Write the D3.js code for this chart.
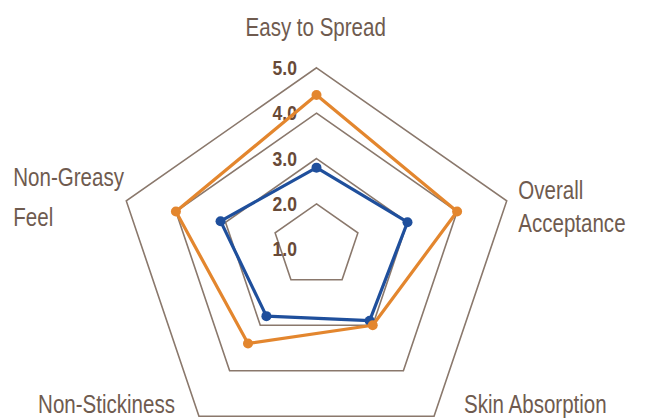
<!DOCTYPE html>
<html><head><meta charset="utf-8">
<script src="https://cdn.jsdelivr.net/npm/d3@7"></script>
<style>html,body{margin:0;padding:0;background:#fff}svg{display:block}</style>
</head><body>
<script>
// ---- data ----
const axisNames = ["Easy to Spread", "Overall Acceptance", "Skin Absorption", "Non-Stickiness", "Non-Greasy Feel"];
const axisLabelLines = [["Easy to Spread"], ["Overall", "Acceptance"], ["Skin Absorption"], ["Non-Stickiness"], ["Non-Greasy", "Feel"]];
const orangeValues = [4.4, 4.0, 3.0, 3.4, 4.0];
const blueValues = [2.8, 3.0, 2.9, 2.8, 3.1];
const gridLevels = [2, 3, 4, 5];
const tickValues = [1, 2, 3, 4, 5];
const tickLabels = ["1.0", "2.0", "3.0", "4.0", "5.0"];

// ---- layout / style ----
const W = 645, H = 419;
const cx = 316.5, cy = 241.8, tilt = 0.093, squash = 0.963;
const colors = {orange: "#e3862e", blue: "#1f4f9c", grid: "#8a786c", text: "#6f5b4f", tick: "#684a37"};

const svg = d3.select("body").append("svg").attr("width", W).attr("height", H);

const rScale = d3.scaleLinear().domain([2, 5]).range([43.5, 200]);
const aScale = d3.scaleLinear().domain([0, axisNames.length]).range([0, 2 * Math.PI]);

function pt(i, v) {
  const a = aScale(i), R = rScale(v);
  return [cx + R * Math.sin(a), cy + tilt * R - squash * R * Math.cos(a)];
}
const closed = d3.line().curve(d3.curveLinearClosed);

// grid rings
svg.append("g").selectAll("path").data(gridLevels).join("path")
  .attr("d", lv => closed(axisNames.map((_, i) => pt(i, lv))))
  .attr("fill", "none").attr("stroke", colors.grid).attr("stroke-width", 1.6);

// tick labels
svg.append("g").selectAll("text").data(tickValues).join("text")
  .attr("transform", (v) => `translate(${cx - 19.5},${pt(0, v)[1] + 7}) scale(0.9,1)`)
  .attr("text-anchor", "end")
  .attr("font-family", "'Liberation Sans', Arial, sans-serif")
  .attr("font-weight", "bold").attr("font-size", 19.5)
  .attr("fill", colors.tick)
  .text((v, i) => tickLabels[i]);

// axis labels
const labelCfg = [
  {anchor: "middle", dx: -0.8, dy: -31.8, lh: 0},
  {anchor: "start", dx: 11.6, dy: -2.3, lh: 33},
  {anchor: "start", dx: 30, dy: -2.8, lh: 0},
  {anchor: "end", dx: -24, dy: -2.8, lh: 0},
  {anchor: "start", dx: -113, dy: -15, lh: 39.7}
];
const lg = svg.append("g");
axisLabelLines.forEach((lines, i) => {
  const [vx, vy] = pt(i, 5);
  const c = labelCfg[i];
  lines.forEach((ln, j) => {
    lg.append("text")
      .attr("transform", `translate(${vx + c.dx},${vy + c.dy + j * c.lh}) scale(0.79,1)`)
      .attr("text-anchor", c.anchor)
      .attr("font-family", "'Liberation Sans', Arial, sans-serif")
      .attr("font-size", 26)
      .attr("fill", colors.text)
      .text(ln);
  });
});

// series
function drawSeries(vals, col) {
  const pts = vals.map((v, i) => pt(i, v));
  const g = svg.append("g");
  g.append("path").attr("d", closed(pts)).attr("fill", "none")
    .attr("stroke", col).attr("stroke-width", 3.2).attr("stroke-linejoin", "round");
  g.selectAll("circle").data(pts).join("circle")
    .attr("cx", d => d[0]).attr("cy", d => d[1]).attr("r", 5).attr("fill", col);
}
drawSeries(blueValues, colors.blue);
drawSeries(orangeValues, colors.orange);
</script>
</body></html>
